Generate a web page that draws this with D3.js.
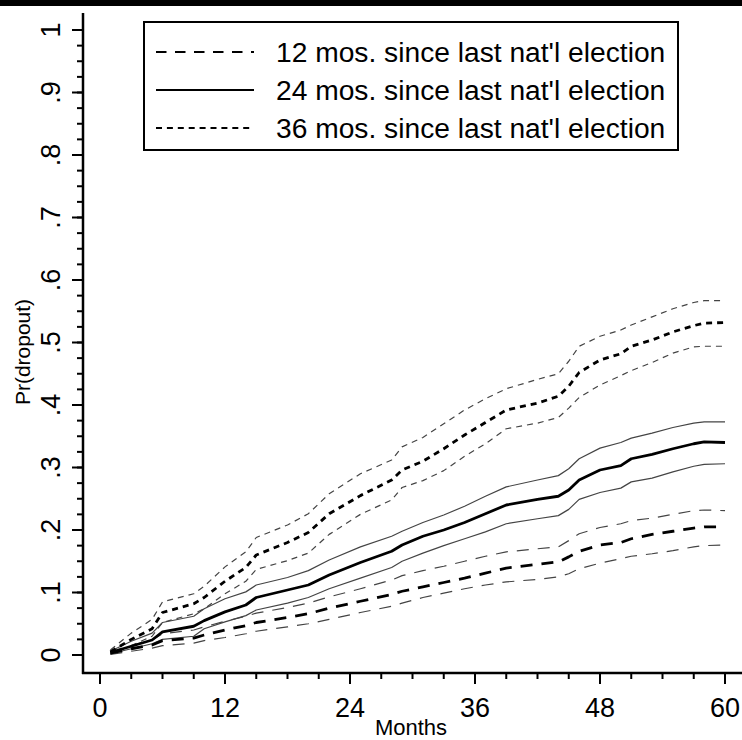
<!DOCTYPE html>
<html>
<head>
<meta charset="utf-8">
<script src="https://cdn.jsdelivr.net/npm/d3@7"></script>
<style>
  body { margin: 0; background: #fff; }
  svg { display: block; font-family: "Liberation Sans", Arial, sans-serif; }
</style>
</head>
<body>
<div id="chart"></div>
<script>
// months at which the curves were read
const months = [1, 3, 5, 6, 9, 10, 12, 14, 15, 18, 20, 22, 25, 28, 29, 31, 33, 35, 37, 39, 42, 44, 45, 46, 48, 50, 51, 53, 55, 57, 58, 60];

// 12 months since last election
const mean12 = [.003, .010, .016, .023, .027, .032, .040, .047, .052, .060, .066, .075, .086, .097, .102, .109, .116, .123, .131, .139, .145, .149, .157, .166, .176, .180, .186, .193, .198, .203, .205, .205];
const upper12 = [.005, .015, .024, .034, .040, .045, .054, .062, .067, .076, .083, .093, .106, .120, .127, .135, .142, .150, .158, .165, .170, .173, .183, .194, .204, .210, .215, .219, .225, .231, .232, .231];
const lower12 = [.001, .006, .011, .015, .019, .023, .028, .034, .038, .045, .050, .057, .068, .078, .083, .092, .099, .106, .112, .117, .121, .125, .130, .138, .147, .154, .158, .162, .167, .173, .175, .176];

// 24 months
const mean24 = [.004, .014, .024, .037, .046, .055, .069, .080, .092, .104, .112, .128, .148, .166, .176, .190, .200, .212, .226, .240, .249, .254, .264, .280, .296, .303, .314, .321, .330, .338, .341, .340];
const upper24 = [.006, .022, .035, .052, .062, .074, .090, .101, .112, .124, .135, .152, .173, .190, .198, .212, .224, .238, .254, .269, .280, .287, .298, .314, .331, .340, .347, .355, .364, .371, .373, .373];
const lower24 = [.002, .010, .018, .025, .030, .042, .053, .063, .072, .083, .092, .106, .123, .140, .150, .163, .175, .186, .197, .210, .218, .223, .233, .249, .260, .267, .277, .283, .293, .302, .305, .306];

// 36 months
const mean36 = [.005, .025, .042, .068, .082, .092, .118, .140, .160, .180, .196, .226, .255, .280, .296, .310, .330, .352, .372, .392, .403, .414, .430, .452, .472, .482, .494, .504, .517, .527, .531, .532];
const upper36 = [.008, .035, .057, .085, .098, .110, .141, .165, .188, .208, .226, .258, .290, .312, .333, .348, .370, .392, .410, .426, .441, .450, .470, .494, .510, .520, .528, .541, .554, .564, .567, .567];
const lower36 = [.002, .015, .030, .052, .066, .074, .098, .118, .137, .151, .163, .193, .225, .248, .268, .279, .295, .318, .338, .362, .371, .380, .395, .412, .432, .447, .455, .468, .483, .493, .494, .494];

const legendLabels = ["12 mos. since last nat'l election", "24 mos. since last nat'l election", "36 mos. since last nat'l election"];
const xTicks = [0, 12, 24, 36, 48, 60];
const yTicks = [0, .1, .2, .3, .4, .5, .6, .7, .8, .9, 1];
const yTickLabels = ["0", ".1", ".2", ".3", ".4", ".5", ".6", ".7", ".8", ".9", "1"];

const W = 742, H = 740;
const dashLong = "12,9", dashShort = "6,5";

const svg = d3.select("#chart").append("svg")
    .attr("width", W)
    .attr("height", H);

// leftover frame edge at top
svg.append("rect").attr("x", 0).attr("y", 0).attr("width", W).attr("height", 6).attr("fill", "#000");

const x = d3.scaleLinear().domain([0, 60]).range([100, 725]);
const y = d3.scaleLinear().domain([0, 1]).range([655, 30]);

const axisX = 83, axisY = 673;

// y axis
svg.append("line").attr("x1", axisX).attr("x2", axisX).attr("y1", 13).attr("y2", axisY + 1)
    .attr("stroke", "#000").attr("stroke-width", 2.5);
const yMinor = d3.range(0, 1.0001, 0.025);
svg.selectAll(".ymin").data(yMinor).join("line")
    .attr("x1", axisX - 6).attr("x2", axisX)
    .attr("y1", d => y(d)).attr("y2", d => y(d))
    .attr("stroke", "#000").attr("stroke-width", 2);
svg.selectAll(".ymaj").data(yTicks).join("line")
    .attr("x1", axisX - 11).attr("x2", axisX)
    .attr("y1", d => y(d)).attr("y2", d => y(d))
    .attr("stroke", "#000").attr("stroke-width", 2);
svg.selectAll(".ylab").data(yTicks).join("text")
    .attr("transform", d => `translate(60, ${y(d)}) rotate(-90)`)
    .attr("text-anchor", "middle")
    .attr("font-size", 27)
    .text((d, i) => yTickLabels[i]);
svg.append("text")
    .attr("transform", `translate(30, 352) rotate(-90)`)
    .attr("text-anchor", "middle")
    .attr("font-size", 21)
    .text("Pr(dropout)");

// x axis
svg.append("line").attr("x1", axisX - 1).attr("x2", W).attr("y1", axisY).attr("y2", axisY)
    .attr("stroke", "#000").attr("stroke-width", 2.5);
const xMinor = d3.range(0, 61, 3);
svg.selectAll(".xmin").data(xMinor).join("line")
    .attr("x1", d => x(d)).attr("x2", d => x(d))
    .attr("y1", axisY).attr("y2", axisY + 6)
    .attr("stroke", "#000").attr("stroke-width", 2);
svg.selectAll(".xmaj").data(xTicks).join("line")
    .attr("x1", d => x(d)).attr("x2", d => x(d))
    .attr("y1", axisY).attr("y2", axisY + 11)
    .attr("stroke", "#000").attr("stroke-width", 2);
svg.selectAll(".xlab").data(xTicks).join("text")
    .attr("x", d => x(d)).attr("y", 717)
    .attr("text-anchor", "middle")
    .attr("font-size", 27)
    .text(d => d);
svg.append("text")
    .attr("x", 411).attr("y", 735)
    .attr("text-anchor", "middle")
    .attr("font-size", 22)
    .text("Months");

// curves
const line = d3.line()
    .x((d, i) => x(months[i]))
    .y(d => y(d));

const series = [
    {vals: upper12, dash: dashLong, w: 1.2, c: "#444"},
    {vals: lower12, dash: dashLong, w: 1.2, c: "#444"},
    {vals: upper24, dash: null, w: 1.2, c: "#444"},
    {vals: lower24, dash: null, w: 1.2, c: "#444"},
    {vals: upper36, dash: dashShort, w: 1.2, c: "#444"},
    {vals: lower36, dash: dashShort, w: 1.2, c: "#444"},
    {vals: mean12, dash: dashLong, w: 2.8, c: "#000"},
    {vals: mean24, dash: null, w: 2.8, c: "#000"},
    {vals: mean36, dash: dashShort, w: 2.8, c: "#000"}
];

svg.selectAll(".curve").data(series).join("path")
    .attr("d", s => line(s.vals))
    .attr("fill", "none")
    .attr("stroke", s => s.c)
    .attr("stroke-width", s => s.w)
    .attr("stroke-dasharray", s => s.dash)
    .attr("stroke-linejoin", "round");

// legend
const leg = svg.append("g");
leg.append("rect")
    .attr("x", 144).attr("y", 22).attr("width", 534).attr("height", 128)
    .attr("fill", "#fff").attr("stroke", "#000").attr("stroke-width", 2);
const legDash = ["10.5,8.5", null, "6,4.9"];
legendLabels.forEach((lab, i) => {
    const cy = 52 + i * 38;
    leg.append("line")
        .attr("x1", 156).attr("x2", 254).attr("y1", cy).attr("y2", cy)
        .attr("stroke", "#000").attr("stroke-width", 2)
        .attr("stroke-dasharray", legDash[i]);
    leg.append("text")
        .attr("x", 276).attr("y", cy + 9.5)
        .attr("font-size", 28.2)
        .text(lab);
});
</script>
</body>
</html>
